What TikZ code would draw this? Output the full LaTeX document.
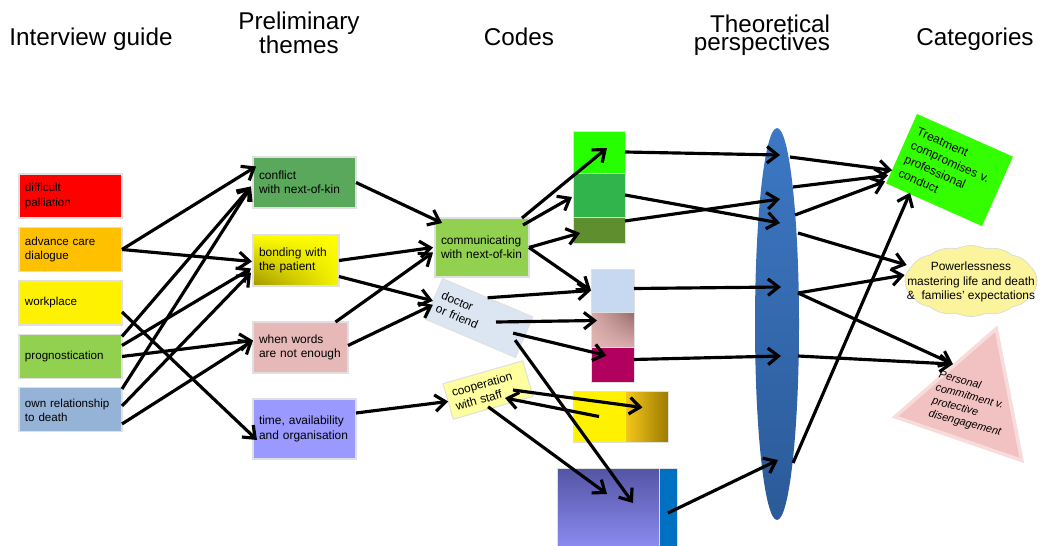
\documentclass[tikz,border=0pt]{standalone}
\usepackage{fontspec}
\setmainfont{Liberation Sans}
\usetikzlibrary{positioning}
\usetikzlibrary{shapes,arrows.meta,calc,shadings}

\definecolor{dialogueorange}{HTML}{FFC000}
\definecolor{proggreen}{HTML}{92D050}
\definecolor{deathblue}{HTML}{95B3D7}
\definecolor{conflictgreen}{HTML}{5AA85B}
\definecolor{bondolive}{HTML}{A09400}
\definecolor{wordspink}{HTML}{E6B9B8}
\definecolor{timeblue}{HTML}{9999FF}
\definecolor{doctorblue}{HTML}{DCE6F2}
\definecolor{coopyellow}{HTML}{FFFFA0}
\definecolor{chipgreenA}{HTML}{26FF00}
\definecolor{chipgreenB}{HTML}{31B44B}
\definecolor{chipgreenC}{HTML}{5E8E2E}
\definecolor{chipblue}{HTML}{C6D9F0}
\definecolor{chippinkA}{HTML}{E2B4B3}
\definecolor{chippinkB}{HTML}{946B69}
\definecolor{chipmagenta}{HTML}{B2005F}
\definecolor{goldA}{HTML}{F6C81C}
\definecolor{goldB}{HTML}{9C7B00}
\definecolor{purpleA}{HTML}{5454A4}
\definecolor{purpleB}{HTML}{8A8AF0}
\definecolor{stripblue}{HTML}{0070C0}
\definecolor{lensA}{HTML}{3D78C4}
\definecolor{lensB}{HTML}{2B5A98}
\definecolor{catgreen}{HTML}{33FF00}
\definecolor{catyellow}{HTML}{FCF49C}
\definecolor{catpink}{HTML}{F2C2C2}
\definecolor{catpinkedge}{HTML}{F8DCDC}

\begin{document}
\begin{tikzpicture}[x=0.02cm,y=-0.02cm,
                    heading/.style={font=\fontsize{13.8}{10.4}\selectfont,
                                    align=center},
                    guidebox/.style={rectangle,
                                     draw=black!12, line width=0.6pt,
                                     outer sep=0,
                                     minimum height=0.88cm,
                                     text width=1.82cm, inner xsep=0.12cm,
                                     align=left,
                                     font=\fontsize{6.6}{8}\selectfont
                                    },
                    themebox/.style={rectangle,
                                     draw=black!12, line width=0.6pt,
                                     outer sep=0,
                                     inner xsep=0.12cm,
                                     align=left,
                                     font=\fontsize{6.8}{8.2}\selectfont
                                    },
                    chip/.style={rectangle,
                                 draw=black!12, line width=0.5pt,
                                 outer sep=0, inner sep=0
                                },
                    linkconnection/.style={
                                     line width=1.8pt,
                                     -{Straight Barb[length=2.1mm,width=3.3mm]}
                                    }
                   ]
  \useasboundingbox (0,0) rectangle (1040,545);

  % column headings
  \node[heading] (hguide) at (91,39) {Interview guide};
  \node[heading] (htheme) at (299,33) {Preliminary\\themes};
  \node[heading] (hcode) at (519,37) {Codes};
  \node[heading,align=right] (htheory) at (762,35) {Theoretical\\perspectives};
  \node[heading] (hcat) at (975,39) {Categories};

  % interview guide
  \node[guidebox,fill=red,anchor=north west] (palliation) at (19,174) {difficult\\palliation};
  \node[guidebox,fill=dialogueorange,below=0.19cm of palliation] (dialogue) {advance care\\dialogue};
  \node[guidebox,fill=yellow,below=0.19cm of dialogue] (workplace) {workplace};
  \node[guidebox,fill=proggreen,below=0.19cm of workplace] (prognostication) {prognostication};
  \node[guidebox,fill=deathblue,below=0.19cm of prognostication] (relationship) {own relationship\\ to death};

  % preliminary themes
  \node[themebox,fill=conflictgreen,text width=1.82cm,minimum height=1.02cm,anchor=north west] (conflict) at (253,157) {conflict\\with next-of-kin};
  \node[themebox,text width=1.48cm,minimum height=1.02cm,anchor=north west,
        upper left=yellow,upper right=yellow,lower right=yellow!90!bondolive,lower left=bondolive] (bonding) at (253,235) {bonding with\\the patient};
  \node[themebox,fill=wordspink,text width=1.66cm,minimum height=1.02cm,anchor=north west] (words) at (253,322) {when words\\are not enough};
  \node[themebox,fill=timeblue,text width=1.82cm,minimum height=1.2cm,anchor=north west] (time) at (253,399) {time, availability\\and organisation};

  % codes
  \node[themebox,fill=proggreen,text width=1.64cm,minimum height=1.18cm,anchor=north west] (communicating) at (435,218) {communicating\\with next-of-kin};
  \node[themebox,fill=doctorblue,text width=1.72cm,minimum height=0.88cm,rotate=-23] (doctor) at (479,318) {doctor\\or friend};
  \node[themebox,fill=coopyellow,text width=1.42cm,minimum height=0.74cm,rotate=16] (cooperation) at (488,390) {cooperation\\with staff};

  \node[chip,fill=chipgreenA,minimum width=1.04cm,minimum height=0.84cm,anchor=north west] (greenA) at (573,131) {};
  \node[chip,fill=chipgreenB,minimum width=1.04cm,minimum height=0.88cm,below=0pt of greenA] (greenB) {};
  \node[chip,fill=chipgreenC,minimum width=1.04cm,minimum height=0.52cm,below=0pt of greenB] (greenC) {};

  \node[chip,fill=chipblue,minimum width=0.86cm,minimum height=0.86cm,anchor=north west] (blueA) at (591,269) {};
  \node[chip,upper left=chippinkA!90!chippinkB,upper right=chippinkB,lower left=chippinkA,lower right=chippinkA!90!chippinkB,
        minimum width=0.86cm,minimum height=0.7cm,below=0pt of blueA] (blueB) {};
  \node[chip,fill=chipmagenta,minimum width=0.86cm,minimum height=0.7cm,below=0pt of blueB] (blueC) {};

  \node[chip,fill=yellow,minimum width=1.04cm,minimum height=1.02cm,anchor=north west] (yellowA) at (573,391) {};
  \node[chip,left color=goldA,right color=goldB,minimum width=0.86cm,minimum height=1.02cm,right=0pt of yellowA] (yellowB) {};

  \node[chip,top color=purpleA,bottom color=purpleB,minimum width=2.04cm,minimum height=1.56cm,anchor=north west] (purpleA) at (557,468) {};
  \node[chip,fill=stripblue,minimum width=0.36cm,minimum height=1.56cm,right=0pt of purpleA] (purpleB) {};

  % theoretical perspectives
  \node[ellipse,inner sep=0,minimum width=0.88cm,minimum height=7.84cm,top color=lensA,bottom color=lensB] (lens) at (777,324) {};

  % categories
  \node[rectangle,outer sep=0,fill=catgreen,rotate=-24,minimum height=1.52cm,text width=1.8cm,inner xsep=0.15cm,
        align=left,font=\fontsize{6.9}{8.6}\selectfont] (treatment) at (949.5,170) {Treatment\\compromises v.\\professional\\conduct};
  \node[cloud,cloud puffs=14,cloud puff arc=50,cloud ignores aspect,inner sep=0,
        minimum width=2.64cm,minimum height=1.42cm,fill=catyellow,draw=black!15] (powerless) at (971,281) {};
  \node[align=center,font=\fontsize{6.8}{8.3}\selectfont] (powertext) at (971,282) {Powerlessness\\mastering life and death\\\&~ families' expectations};
  \node[regular polygon,regular polygon sides=3,inner sep=0,minimum size=3.1cm,rotate=-19,
        fill=catpink,draw=catpinkedge,line width=2pt] (personal) at (971,402) {};
  \node[align=left,rotate=-15,font=\itshape\fontsize{6.2}{7.6}\selectfont] (personaltext) at (970,404) {Personal\\commitment v.\\protective\\disengagement};

  % interview guide -> themes
  \draw[linkconnection] (dialogue.east) -- ($(conflict.west)+(3,-16)$);
  \draw[linkconnection] (dialogue.east) -- ($(bonding.west)+(-1,1)$);
  \draw[linkconnection] ($(workplace.east)+(0,9)$) -- ($(time.west)+(4,11)$);
  \draw[linkconnection] ($(prognostication.east)+(0,-20)$) -- ($(conflict.west)+(-2,4)$);
  \draw[linkconnection] ($(prognostication.east)+(0,-11)$) -- ($(bonding.west)+(-2,8)$);
  \draw[linkconnection] (prognostication.east) -- ($(words.west)+(0,-7)$);
  \draw[linkconnection] ($(relationship.east)+(0,-21)$) -- ($(conflict.west)+(-2,4)$);
  \draw[linkconnection] ($(relationship.east)+(0,-4)$) -- ($(bonding.west)+(-2,12)$);
  \draw[linkconnection] ($(relationship.east)+(0,14)$) -- ($(words.west)+(0,-7)$);

  % themes -> codes
  \draw[linkconnection] (conflict.east) -- ($(communicating.north west)+(7,5)$);
  \draw[linkconnection] (bonding.east) -- ($(communicating.west)+(-2,0)$);
  \draw[linkconnection] ($(bonding.east)+(0,16)$) -- ($(doctor.west)+(-1,2)$);
  \draw[linkconnection] ($(words.north)+(35,0)$) -- ($(communicating.west)+(-2,5)$);
  \draw[linkconnection] ($(words.east)+(0,-2)$) -- ($(doctor.west)+(-1,6)$);
  \draw[linkconnection] ($(time.east)+(0,-16)$) -- (cooperation.west);

  % codes -> colour blocks
  \draw[linkconnection] ($(communicating.north east)+(-7,0)$) -- ($(greenA.center)+(8,-4)$);
  \draw[linkconnection] ($(communicating.north east)+(-6,7)$) -- ($(greenB.west)+(-1,2)$);
  \draw[linkconnection] (communicating.east) -- ($(greenC.west)+(7,3)$);
  \draw[linkconnection] (communicating.east) -- (blueA.west);
  \draw[linkconnection] (doctor.north) -- (blueA.west);
  \draw[linkconnection] ($(doctor.center)+(17,4)$) -- ($(blueB.west)+(6,-9)$);
  \draw[linkconnection] ($(doctor.east)+(-11,-4)$) -- ($(blueC.center)+(-6,-9)$);
  \draw[linkconnection] ($(doctor.east)+(-9,3)$) -- ($(purpleA.center)+(25,-4)$);
  \draw[linkconnection] ($(cooperation.center)+(25,0)$) -- ($(yellowB.center)+(-4,-9)$);
  \draw[linkconnection] (yellowA.center) -- ($(cooperation.center)+(17,8)$);
  \draw[linkconnection] ($(cooperation.south)+(-5,-1)$) -- ($(purpleA.center)+(-1,-13)$);
  \draw[linkconnection] ($(purpleB.center)+(0,6)$) -- ($(lens.center)+(1,136)$);

  % colour blocks -> lens
  \draw[linkconnection] (greenA.east) -- ($(lens.center)+(3,-169)$);
  \draw[linkconnection] (greenB.east) -- ($(lens.center)+(3,-101)$);
  \draw[linkconnection] ($(greenC.east)+(0,-9)$) -- ($(lens.center)+(3,-125)$);
  \draw[linkconnection] ($(blueA.east)+(0,-2)$) -- ($(lens.center)+(4,-37)$);
  \draw[linkconnection] ($(blueC.east)+(0,-5)$) -- ($(lens.center)+(4,32)$);

  % lens -> categories
  \draw[linkconnection] ($(lens.center)+(13,-167)$) -- ($(treatment.south west)+(6,-13)$);
  \draw[linkconnection] ($(lens.center)+(16,-137)$) -- ($(treatment.south west)+(2,-8)$);
  \draw[linkconnection] ($(lens.center)+(18,-109)$) -- ($(treatment.south west)+(-1,-2)$);
  \draw[linkconnection] ($(lens.center)+(21,-91)$) -- ($(powerless.west)+(2,-16)$);
  \draw[linkconnection] ($(lens.center)+(21,-31)$) -- ($(powerless.west)+(0,-6)$);
  \draw[linkconnection] ($(lens.center)+(21,-31)$) -- ($(personal.corner 1)!0.42!(personal.corner 2)$);
  \draw[linkconnection] ($(lens.center)+(21,32)$) -- ($(personal.corner 1)!0.42!(personal.corner 2)$);
  \draw[linkconnection] ($(lens.center)+(16,139)$) -- ($(treatment.south)+(-24,-12)$);
\end{tikzpicture}
\end{document}
